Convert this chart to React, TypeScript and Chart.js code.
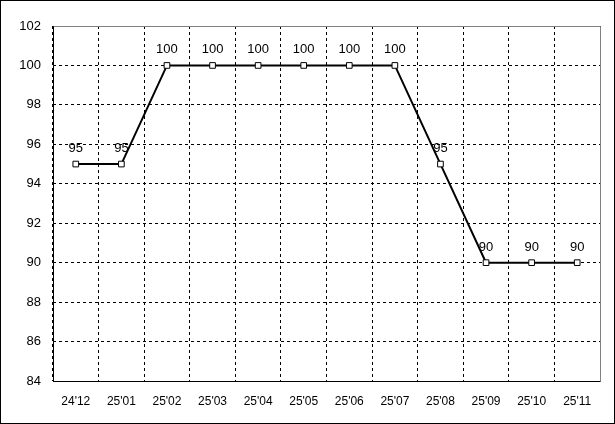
import React, { useEffect, useRef } from "react";
import { Chart, registerables } from "chart.js";

Chart.register(...registerables);

const categories = ["24'12", "25'01", "25'02", "25'03", "25'04", "25'05", "25'06", "25'07", "25'08", "25'09", "25'10", "25'11"];
const values = [95, 95, 100, 100, 100, 100, 100, 100, 95, 90, 90, 90];
const yMin = 84;
const yMax = 102;
const yStep = 2;

const FONT = "'Liberation Sans', Arial, sans-serif";

const framePlugin = {
  id: "frame",
  afterDraw(chart: any) {
    const { ctx, chartArea } = chart;
    const { left, right, top, bottom } = chartArea;
    ctx.save();
    ctx.setLineDash([]);
    ctx.lineWidth = 1;
    ctx.strokeStyle = "#808080";
    ctx.beginPath();
    ctx.moveTo(Math.round(left) + 0.5, Math.round(top) + 0.5);
    ctx.lineTo(Math.round(right) + 0.5, Math.round(top) + 0.5);
    ctx.lineTo(Math.round(right) + 0.5, Math.round(bottom) + 0.5);
    ctx.stroke();
    ctx.strokeStyle = "#000";
    ctx.beginPath();
    ctx.moveTo(Math.round(left) + 0.5, Math.round(top) + 0.5);
    ctx.lineTo(Math.round(left) + 0.5, Math.round(bottom) + 0.5);
    ctx.lineTo(Math.round(right) + 0.5, Math.round(bottom) + 0.5);
    ctx.stroke();
    ctx.restore();
  },
};

const labelPlugin = {
  id: "valueLabels",
  afterDatasetsDraw(chart: any) {
    const { ctx } = chart;
    const meta = chart.getDatasetMeta(0);
    ctx.save();
    ctx.font = `13px ${FONT}`;
    ctx.fillStyle = "#000";
    ctx.textAlign = "center";
    ctx.textBaseline = "alphabetic";
    meta.data.forEach((pt: any, i: number) => {
      ctx.fillText(String(values[i]), pt.x, pt.y - 12);
    });
    ctx.restore();
  },
};

export default function App() {
  const ref = useRef<HTMLCanvasElement>(null);
  useEffect(() => {
    document.body.style.margin = "0";
    const chart = new Chart(ref.current!, {
      type: "line",
      data: {
        labels: categories,
        datasets: [
          {
            data: values,
            borderColor: "#000",
            borderWidth: 2,
            pointStyle: "rect",
            pointRadius: 4,
            pointBackgroundColor: "#fff",
            pointBorderColor: "#000",
            pointBorderWidth: 1,
            tension: 0,
          },
        ],
      },
      options: {
        responsive: false,
        animation: false,
        layout: { padding: { top: 25, right: 14, left: 0, bottom: 0 } },
        plugins: { legend: { display: false }, tooltip: { enabled: false } },
        scales: {
          x: {
            offset: true,
            grid: { offset: true, color: "#000", drawTicks: false, lineWidth: 1 },
            border: { display: false, dash: [3, 3] },
            ticks: { color: "#000", font: { family: FONT, size: 12 }, padding: 13, maxRotation: 0 },
            afterFit(scale: any) {
              scale.height = 42;
            },
          },
          y: {
            min: yMin,
            max: yMax,
            grid: { color: "#000", drawTicks: false, lineWidth: 1 },
            border: { display: false, dash: [3, 3] },
            ticks: { stepSize: yStep, color: "#000", font: { family: FONT, size: 13 }, padding: 12 },
            afterFit(scale: any) {
              scale.width = 52;
            },
          },
        },
      },
      plugins: [framePlugin, labelPlugin],
    });
    return () => chart.destroy();
  }, []);
  return (
    <div style={{ position: "absolute", left: 0, top: 0, width: 615, height: 424, border: "1px solid #000", boxSizing: "border-box", background: "#fff", overflow: "hidden" }}>
      <canvas ref={ref} width={613} height={422} style={{ display: "block" }} />
    </div>
  );
}
